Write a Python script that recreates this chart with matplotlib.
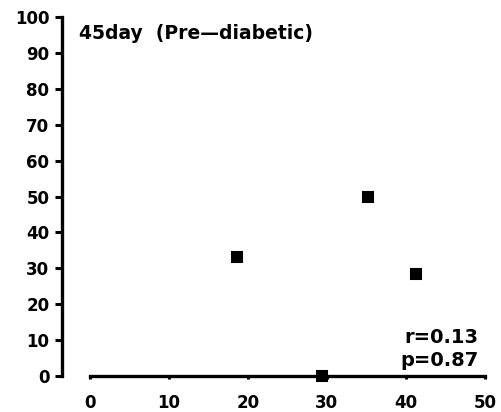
import matplotlib.pyplot as plt

# glucose vs score, 45 day group
x_vals = [18.6, 29.4, 35.2, 41.3]
y_vals = [33.1, 0.0, 49.9, 28.4]
x_ticks = [0, 10, 20, 30, 40, 50]
y_ticks = [0, 10, 20, 30, 40, 50, 60, 70, 80, 90, 100]
title_txt = "45day  (Pre\u2014diabetic)"
stats_txt = "r=0.13\np=0.87"

plt.rcParams['font.family'] = ['DejaVu Sans']
plt.rcParams['font.weight'] = 'bold'

fig = plt.figure(figsize=(5.02, 4.12), dpi=100)
ax = fig.add_axes([62 / 502, 36 / 412, 427 / 502, 359 / 412])

ax.plot(x_vals, y_vals, 's', color='black', ms=7.5, mew=1.5,
        markeredgecolor='black', clip_on=False, zorder=5)

ax.set_xlim(-3.5, 50.5)
ax.set_ylim(0, 100)
ax.set_xticks(x_ticks)
ax.set_yticks(y_ticks)

for s in ['top', 'right']:
    ax.spines[s].set_visible(False)
ax.spines['left'].set_linewidth(2.4)
ax.spines['bottom'].set_linewidth(2.4)
ax.spines['bottom'].set_bounds(0, 50)

ax.tick_params(axis='y', length=5, width=2.2, pad=4, labelsize=12)
ax.tick_params(axis='x', length=2, width=2.2, pad=11, labelsize=12)

ax.text(0.04, 0.955, title_txt, transform=ax.transAxes, fontsize=13.5,
        fontweight='bold', va='center', ha='left')
ax.text(0.975, 0.075, stats_txt, transform=ax.transAxes, fontsize=14,
        fontweight='bold', va='center', ha='right', linespacing=1.3)

fig.savefig('out.png', dpi=100)
